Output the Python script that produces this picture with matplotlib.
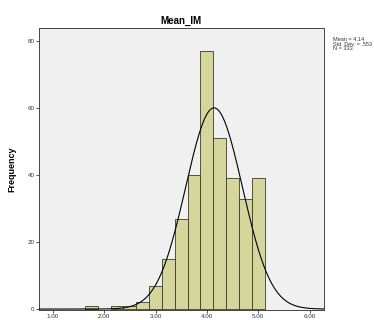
import numpy as np
import matplotlib.pyplot as plt

# histogram of Mean_IM, bins of width 0.25
bin_centers = [1.75, 2.00, 2.25, 2.50, 2.75, 3.00, 3.25, 3.50, 3.75,
               4.00, 4.25, 4.50, 4.75, 5.00]
counts = [1, 0, 1, 1, 2, 7, 15, 27, 40, 77, 51, 39, 33, 39]
bin_width = 0.25

mean_val = 4.14
std_val = 0.553
n_obs = 333

x_ticks = [1.0, 2.0, 3.0, 4.0, 5.0, 6.0]
x_tick_labels = ["1.00", "2.00", "3.00", "4.00", "5.00", "6.00"]
y_ticks = [0, 20, 40, 60, 80]

plt.rcParams['font.family'] = 'Liberation Sans'

fig = plt.figure(figsize=(3.74, 3.2), dpi=100)
fig.patch.set_facecolor('white')
ax = fig.add_axes([0.104, 0.031, 0.762, 0.8815])
ax.set_facecolor('#f0f0f0')

nonzero = [(c, h) for c, h in zip(bin_centers, counts) if h > 0]
ax.bar([c for c, _ in nonzero], [h for _, h in nonzero], width=bin_width,
       color='#d5d69c', edgecolor='#3a3a2a', linewidth=0.6, zorder=2)

# fitted normal curve, scaled to counts
xs = np.linspace(0.727, 6.28, 400)
pdf = np.exp(-0.5 * ((xs - mean_val) / std_val) ** 2) / (std_val * np.sqrt(2 * np.pi))
ax.plot(xs, pdf * n_obs * bin_width, color='black', linewidth=0.8, zorder=3)

ax.set_xlim(0.727, 6.28)
ax.set_ylim(-0.3, 83.9)
ax.set_xticks(x_ticks)
ax.set_xticklabels(x_tick_labels)
ax.set_yticks(y_ticks)
ax.tick_params(axis='both', labelsize=4.5, length=2.5, width=0.6, pad=0.5,
               colors='#333333')
for side in ax.spines.values():
    side.set_linewidth(0.7)
    side.set_color('#444444')

ax.set_ylabel('Frequency', fontsize=6.5, fontweight='bold', labelpad=8)
ax.set_title('Mean_IM', fontsize=7, fontweight='bold', pad=3)

fig.text(333 / 374, 1 - 44 / 320,
         f"Mean = {mean_val:.2f}\nStd. Dev. = {std_val:.3f}\nN = {n_obs}".replace("0.", "."),
         fontsize=4, va='center', ha='left', linespacing=0.95, color='#333333')

fig.savefig('out.png', dpi=100)
